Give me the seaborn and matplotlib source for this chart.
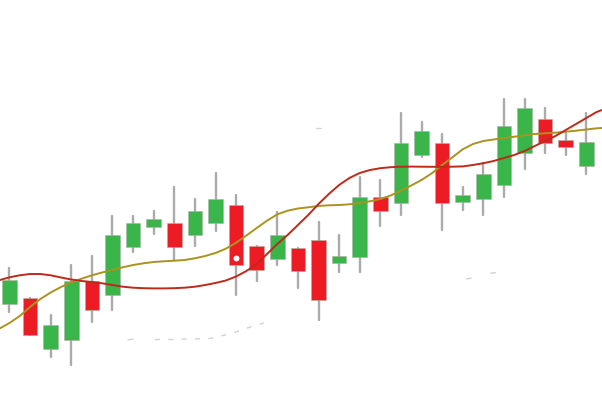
import pandas as pd
import matplotlib.pyplot as plt
import seaborn as sns

# candles, price (415 = top of image)
opens = [111, 117, 66, 75, 134, 120, 168, 188, 192, 180, 192, 210, 169, 156, 167, 175, 152, 158, 218, 212, 260, 272, 213, 216, 230, 262, 296, 275, 249]
closes = [135, 80, 90, 134, 105, 180, 192, 196, 168, 204, 216, 150, 145, 180, 144, 115, 159, 218, 204, 272, 284, 212, 220, 241, 289, 307, 272, 268, 273]
highs = [147, 117, 100, 150, 159, 199, 199, 204, 228, 216, 242, 220, 169, 203, 167, 193, 180, 238, 235, 302, 293, 281, 228, 252, 316, 316, 307, 282, 302]
lows = [103, 80, 58, 50, 93, 105, 163, 181, 155, 169, 184, 120, 134, 150, 127, 95, 143, 143, 189, 200, 258, 185, 205, 200, 218, 246, 262, 260, 241]

# moving averages, read every half session
ma_x = [-0.46, 0, 0.5, 1, 1.5, 2, 2.5, 3, 3.5, 4, 4.5, 5, 5.5, 6, 6.5,
        7, 7.5, 8, 8.5, 9, 9.5, 10, 10.5, 11, 11.5, 12, 12.5, 13, 13.5, 14,
        14.5, 15, 15.5, 16, 16.5, 17, 17.5, 18, 18.5, 19, 19.5, 20, 20.5, 21,
        21.5, 22, 22.5, 23, 23.5, 24, 24.5, 25, 25.5, 26, 26.5, 27, 27.5, 28, 28.5, 28.76]
fast_ma = [135, 137.7, 139.7, 141, 141, 139.7, 137.5, 135.5, 134, 133, 131.7, 130, 128.3, 127.3, 126.8,
           126.6, 126.6, 126.8, 127.3, 128.3, 130, 132, 134.5, 138.5, 144, 151, 161, 171, 180, 190,
           200, 211, 221, 230, 237, 242, 245, 246.8, 247.8, 248.3, 248.4, 248.3, 248.2, 248.2,
           248.3, 248.6, 250, 251.8, 254, 257, 260, 264, 269, 274, 279, 285, 291, 297, 303, 305]
slow_ma = [86.7, 92, 99, 108, 116, 122.5, 128, 132.7, 136.3, 139.7, 142.5, 145, 147.7, 150, 151.7,
           153, 153.7, 154.3, 155, 156.7, 159, 162, 166.3, 172.3, 179.5, 187, 194.3, 200.7, 204.3, 206.5,
           207.7, 209, 209.7, 210, 210.7, 212, 213.7, 216, 219.5, 224.3, 229.5, 235, 241.7, 250,
           257.7, 265.7, 271, 274, 275.5, 277, 278.3, 279.7, 281, 281.7, 282.3, 283.3, 284.3, 285.5, 286.7, 287]

# faint grey remains under the candles
ghost_x = [7.06, 8.03, 9.73, 10.56, 11.19, 11.72, 12.35]
ghost_y = [75.5, 75.5, 76.5, 80.5, 84.3, 88.3, 92]
ghost_tail_x = [5.75, 6.0]
ghost_tail_y = [75, 76]
ghost2_x = [22.16, 22.45, 23.41, 23.7]
ghost2_y = [136, 137, 142, 142.5]
speck_x = [14.9, 15.1]
speck_y = [287, 287]

GREEN = '#39B54A'
RED = '#ED1C24'

sessions = list(range(len(opens)))
candles = pd.DataFrame({'session': sessions, 'open': opens, 'close': closes, 'high': highs, 'low': lows})
wicks = candles.melt(id_vars='session', value_vars=['low', 'high'], value_name='price')

sns.set_theme(style='white')
fig, ax = plt.subplots(figsize=(6.02, 4.15), dpi=100)
ax.set_position([0, 0, 1, 1])

sns.lineplot(data=wicks, x='session', y='price', units='session', estimator=None,
             color='#ababab', linewidth=1.7, ax=ax)

up = candles['close'] >= candles['open']
ax.bar(candles['session'], candles['close'] - candles['open'], bottom=candles['open'], width=0.71,
       color=[GREEN if u else RED for u in up], edgecolor='#b0b0a8', linewidth=0.4, zorder=3)

sns.lineplot(x=ma_x, y=slow_ma, color='#AB931E', linewidth=1.4, estimator=None, sort=False, ax=ax, zorder=4)
sns.lineplot(x=ma_x, y=fast_ma, color='#BE2A1A', linewidth=1.4, estimator=None, sort=False, ax=ax, zorder=5)

sns.lineplot(x=ghost_x, y=ghost_y, color='#d2d2d2', linewidth=1, linestyle=(0, (3.6, 6)), estimator=None, ax=ax)
sns.lineplot(x=ghost_tail_x, y=ghost_tail_y, color='#d2d2d2', linewidth=1, estimator=None, ax=ax)
sns.lineplot(x=ghost2_x, y=ghost2_y, color='#d2d2d2', linewidth=1, linestyle=(0, (4, 14)), estimator=None, ax=ax)
sns.lineplot(x=speck_x, y=speck_y, color='#d8d8d8', linewidth=1, estimator=None, ax=ax)

# small white mark on the tall red candle
ax.scatter([11], [157], s=18, color='white', marker='o', zorder=6, linewidths=0)

ax.set_xlim(-0.46, 28.76)
ax.set_ylim(0, 415)
ax.axis('off')
fig.savefig('out.png', dpi=100)
